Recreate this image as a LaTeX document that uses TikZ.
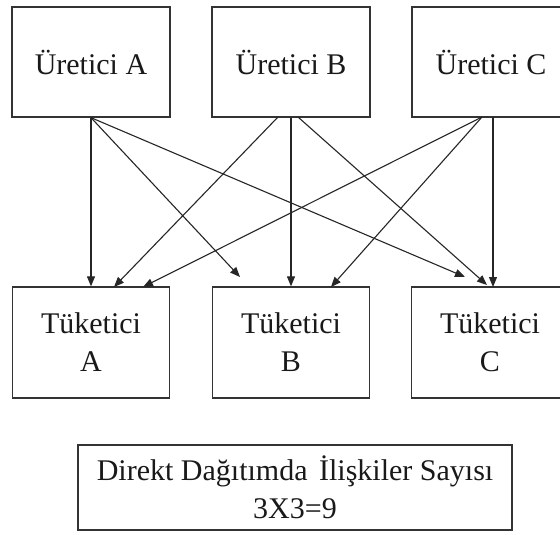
\documentclass[tikz,border=0pt]{standalone}
\usepackage{fontspec}
\setmainfont{Liberation Serif}
\usetikzlibrary{arrows.meta}

\tikzset{
  box/.style={draw=black!80, line width=1.3pt, rectangle, inner sep=0pt,
              align=center, font=\fontsize{30}{38}\selectfont, text=black!90},
  topbox/.style={box, minimum width=158pt, minimum height=110pt},
  lowbox/.style={box, minimum width=157pt, minimum height=111pt},
  arr/.style={draw=black!85, line width=1.1pt,
              -{Triangle[length=10pt,width=8pt]}}
}

\begin{document}
\begin{tikzpicture}[x=1pt, y=-1pt]
  \clip (0,0) rectangle (560,535);
  \fill[white] (0,0) rectangle (560,535);

  % producers
  \node[topbox] (UA) at (91,62)  {Üretici A};
  \node[topbox] (UB) at (291,62) {Üretici B};
  \node[topbox] (UC) at (491,62) {Üretici C};

  % consumers
  \node[lowbox] (TA) at (91,342.5)  {Tüketici\\A};
  \node[lowbox] (TB) at (291,342.5) {Tüketici\\B};
  \node[lowbox] (TC) at (490,342.5) {Tüketici\\C};

  % summary
  \node[box, minimum width=434pt, minimum height=85pt] (S) at (295,487.5)
    {Direkt Dağıtımda\hspace{4pt} İlişkiler Sayısı\\3X3=9};

  % start points on the producer boxes
  \coordinate (bL) at (278,117);
  \coordinate (bR) at (298,117);
  \coordinate (cL) at (482,117);
  \coordinate (cV) at (493,117);

  % arrow tips at the consumer boxes
  \coordinate (aB) at (240,277);
  \coordinate (aC) at (465,277);
  \coordinate (bA) at (114,287);
  \coordinate (bC) at (487,285);
  \coordinate (cA) at (143,287);
  \coordinate (cB) at (331,287);
  \coordinate (cC) at (493,287);

  % every producer to every consumer
  \draw[arr] (UA.south) -- (TA.north);
  \draw[arr] (UA.south) -- (aB);
  \draw[arr] (UA.south) -- (aC);

  \draw[arr] (bL) -- (bA);
  \draw[arr] (UB.south) -- (TB.north);
  \draw[arr] (bR) -- (bC);

  \draw[arr] (cL) -- (cA);
  \draw[arr] (cL) -- (cB);
  \draw[arr] (cV) -- (cC);
\end{tikzpicture}
\end{document}
